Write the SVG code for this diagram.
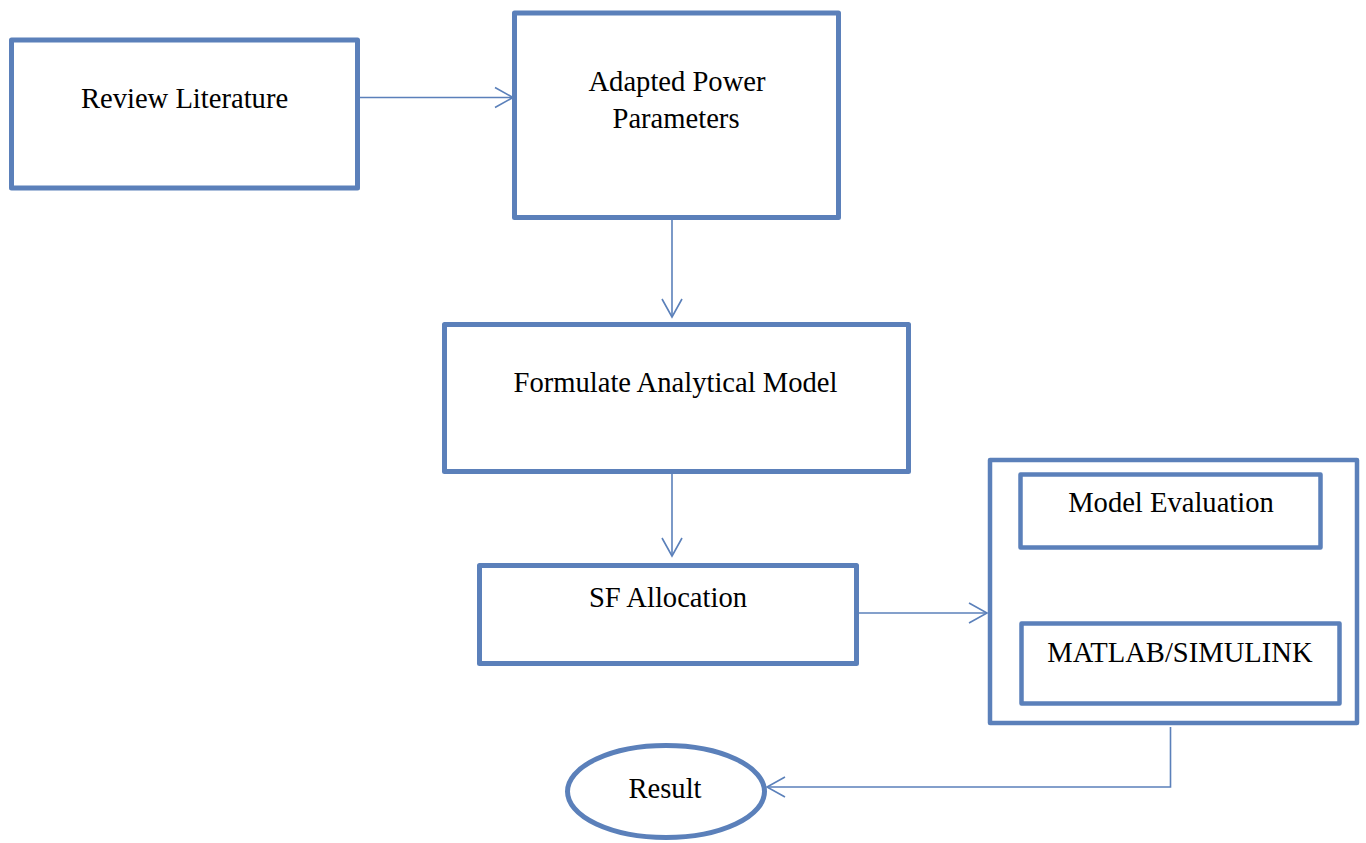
<svg xmlns="http://www.w3.org/2000/svg" width="1366" height="843" viewBox="0 0 1366 843">
<style>
.box{fill:#ffffff;stroke:#5b80ba;stroke-width:5;stroke-linejoin:round}
.thin{stroke-width:4.5}
.lbl{font-family:"Liberation Serif","Times New Roman",serif;font-size:28.6px;fill:#000000;text-anchor:middle}
.conn{fill:none;stroke:#5b80ba;stroke-width:1.6}
</style>
<defs>
<marker id="arr" viewBox="0 0 18 20" refX="18" refY="10" markerWidth="18" markerHeight="20" markerUnits="userSpaceOnUse" orient="auto" overflow="visible">
<path d="M0,0 L18,10 L0,20" fill="none" stroke="#5b80ba" stroke-width="1.6"/>
</marker>
</defs>
<rect width="1366" height="843" fill="#ffffff"/>
<g id="connectors">
<path class="conn" d="M358,97.5 H513" marker-end="url(#arr)"/>
<path class="conn" d="M672,220 V317" marker-end="url(#arr)"/>
<path class="conn" d="M672,474 V556" marker-end="url(#arr)"/>
<path class="conn" d="M859,613 H987" marker-end="url(#arr)"/>
<path class="conn" d="M1170.5,727 V787 H767" marker-end="url(#arr)"/>
</g>
<g id="review">
<rect class="box" x="11.5" y="40" width="346" height="148"/>
<text class="lbl" x="184.5" y="108">Review Literature</text>
</g>
<g id="adapted">
<rect class="box" x="514.5" y="13" width="324" height="204.5"/>
<text class="lbl" x="677" y="90.5">Adapted Power</text>
<text class="lbl" x="676" y="127.5">Parameters</text>
</g>
<g id="formulate">
<rect class="box" x="444.5" y="324.5" width="464" height="147"/>
<text class="lbl" x="675.5" y="392">Formulate Analytical Model</text>
</g>
<g id="sf">
<rect class="box" x="479.5" y="565.5" width="377" height="98"/>
<text class="lbl" x="668" y="607">SF Allocation</text>
</g>
<g id="container">
<rect class="box thin" x="990" y="460" width="367" height="263"/>
</g>
<g id="model-eval">
<rect class="box thin" x="1020.5" y="474.5" width="300" height="73"/>
<text class="lbl" x="1171" y="512">Model Evaluation</text>
</g>
<g id="matlab">
<rect class="box thin" x="1021.5" y="623.5" width="318" height="80"/>
<text class="lbl" x="1180" y="662">MATLAB/SIMULINK</text>
</g>
<g id="result">
<ellipse class="box" cx="666" cy="791.5" rx="98.5" ry="46"/>
<text class="lbl" x="665" y="798">Result</text>
</g>
</svg>
